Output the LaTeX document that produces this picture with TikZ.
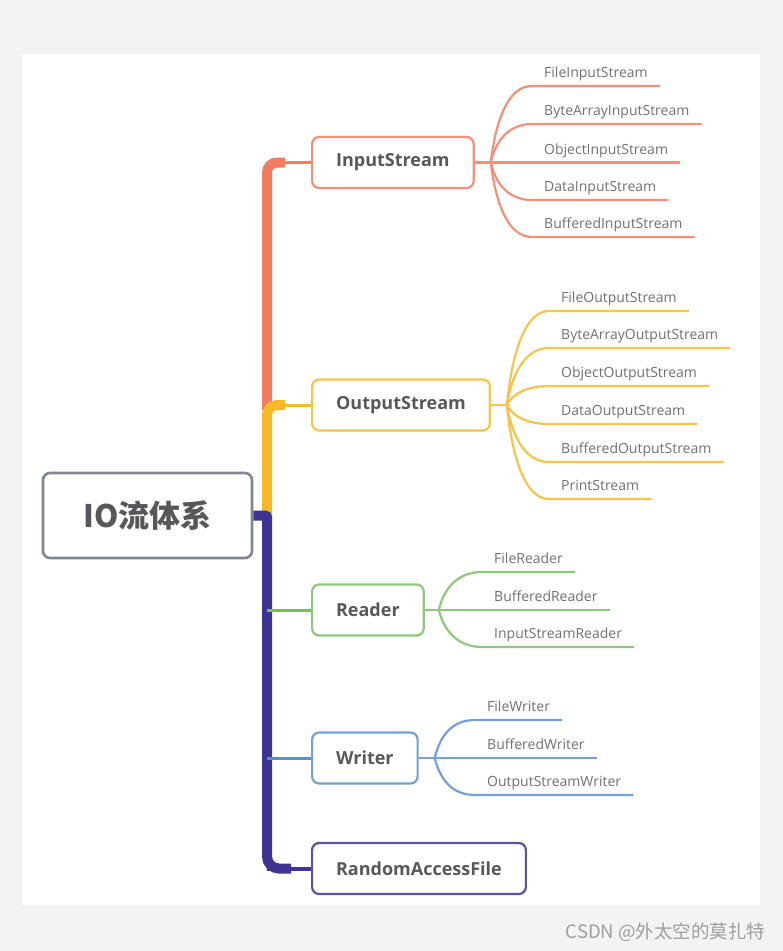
\documentclass[tikz,border=0pt]{standalone}
\usepackage{fontspec}
\setmainfont{Open Sans}
\newfontfamily\cjk{Noto Sans CJK SC}
\usepackage{tikz}
\usetikzlibrary{positioning, calc}
\definecolor{fondo}{RGB}{243,243,243}
\definecolor{naranja}{RGB}{242,124,96}
\definecolor{amarillo}{RGB}{247,185,40}
\definecolor{verde}{RGB}{122,190,98}
\definecolor{azul}{RGB}{92,142,208}
\definecolor{morado}{RGB}{62,52,146}
\definecolor{gris}{RGB}{128,134,146}
\definecolor{texto}{RGB}{88,88,92}

\begin{document}
\begin{tikzpicture}[
  x=1pt, y=-1pt,
  raiz/.style={
    draw=gris, line width=2.6pt, fill=white,
    rounded corners=7pt, text=texto,
    font=\cjk\bfseries\fontsize{31}{36}\selectfont,
    minimum width=209pt, minimum height=85pt
  },
  rama/.style={
    draw=#1!85, line width=2.2pt, fill=white,
    rounded corners=7pt, text=texto,
    font=\bfseries\fontsize{18}{22}\selectfont,
    minimum height=51pt, inner xsep=24pt
  },
  hoja/.style={
    font=\fontsize{14}{16}\selectfont, text=texto!85,
    inner xsep=12pt, inner ysep=8pt, text depth=0pt,
    anchor=south west
  },
  tronco/.style={draw=#1, line width=10pt, rounded corners=10pt},
  enlace/.style={draw=#1, line width=3pt},
  hilo/.style={draw=#1!85, line width=2.2pt}
]

% ── FONDO ────────────────────────────────────────────────────
\fill[fondo] (0,0) rectangle (783,951);
\fill[black!5] (20,52) rectangle (762,908);
\fill[white] (22,54) rectangle (760,905);

% ── NODOS ────────────────────────────────────────────────────

\node[raiz] (io) at (147.5,515.5) {IO流体系};

\node[rama=naranja, anchor=west] (is)  at (311,162.5) {InputStream};
\node[rama=amarillo, anchor=west] (os) at (311,405)   {OutputStream};
\node[rama=verde, anchor=west] (rd)    at (311,610)   {Reader};
\node[rama=azul, anchor=west] (wr)     at (311,758)   {Writer};
\node[rama=morado, anchor=west] (raf)  at (311,868.5) {RandomAccessFile};

% puntos del tronco
\coordinate (t-is)  at (267,162.5);
\coordinate (t-os)  at (267,405);
\coordinate (t-io)  at (267,515.5);
\coordinate (t-rd)  at (267,610);
\coordinate (t-wr)  at (267,758);
\coordinate (t-raf) at (267,868.5);

% puntos de abanico
\coordinate[right=16pt of is] (is-f);
\coordinate[right=16pt of os] (os-f);
\coordinate[right=14pt of rd] (rd-f);
\coordinate[right=16pt of wr] (wr-f);

% hojas InputStream
\node[hoja] (is1) at (532,86)    {FileInputStream};
\node[hoja] (is2) at (532,124)   {ByteArrayInputStream};
\node[hoja] (is3) at (532,162.5) {ObjectInputStream};
\node[hoja] (is4) at (532,200)   {DataInputStream};
\node[hoja] (is5) at (532,237)   {BufferedInputStream};

% hojas OutputStream
\node[hoja] (os1) at (549,311) {FileOutputStream};
\node[hoja] (os2) at (549,348) {ByteArrayOutputStream};
\node[hoja] (os3) at (549,386) {ObjectOutputStream};
\node[hoja] (os4) at (549,424) {DataOutputStream};
\node[hoja] (os5) at (549,462) {BufferedOutputStream};
\node[hoja] (os6) at (549,499) {PrintStream};

% hojas Reader
\node[hoja] (rd1) at (482,572) {FileReader};
\node[hoja] (rd2) at (482,610) {BufferedReader};
\node[hoja] (rd3) at (482,647) {InputStreamReader};

% hojas Writer
\node[hoja] (wr1) at (475,720) {FileWriter};
\node[hoja] (wr2) at (475,758) {BufferedWriter};
\node[hoja] (wr3) at (475,795) {OutputStreamWriter};

% marca
\node[anchor=east, font=\cjk\fontsize{18.5}{22}\selectfont, text=black!38] (marca) at (769,932) {CSDN @外太空的莫扎特};

% ── TRONCO ───────────────────────────────────────────────────

\draw[tronco=naranja] (267,410) -- (t-is) -- ++(18,0);
\draw[enlace=naranja] (t-is) -- (is.west);
\draw[tronco=amarillo] (267,522) -- (t-os) -- ++(18,0);
\draw[enlace=amarillo] (t-os) -- (os.west);
\draw[tronco=morado] [rounded corners=2pt] (io.east) -- (t-io)
  [rounded corners=12pt] -- (t-raf) -- ++(24,0);
\draw[enlace=morado, line width=4pt] (t-raf) -- (raf.west);
\draw[enlace=verde] (t-rd) -- (rd.west);
\draw[enlace=azul] (t-wr) -- (wr.west);

% ── RAMAS ────────────────────────────────────────────────────

% InputStream
\draw[hilo=naranja] (is.east) -- (is-f);
\draw[hilo=naranja] (is-f) .. controls +(5,-42) and +(-24,0) .. (is1.south west) -- (is1.south east);
\draw[hilo=naranja] (is-f) .. controls +(5,-21) and +(-24,0) .. (is2.south west) -- (is2.south east);
\draw[hilo=naranja] (is-f) -- (is3.south west) -- (is3.south east);
\draw[hilo=naranja] (is-f) .. controls +(5,21) and +(-24,0) .. (is4.south west) -- (is4.south east);
\draw[hilo=naranja] (is-f) .. controls +(5,41) and +(-24,0) .. (is5.south west) -- (is5.south east);

% OutputStream
\draw[hilo=amarillo] (os.east) -- (os-f);
\draw[hilo=amarillo] (os-f) .. controls +(5,-52) and +(-24,0) .. (os1.south west) -- (os1.south east);
\draw[hilo=amarillo] (os-f) .. controls +(5,-31) and +(-24,0) .. (os2.south west) -- (os2.south east);
\draw[hilo=amarillo] (os-f) .. controls +(5,-10) and +(-24,0) .. (os3.south west) -- (os3.south east);
\draw[hilo=amarillo] (os-f) .. controls +(5,10) and +(-24,0) .. (os4.south west) -- (os4.south east);
\draw[hilo=amarillo] (os-f) .. controls +(5,31) and +(-24,0) .. (os5.south west) -- (os5.south east);
\draw[hilo=amarillo] (os-f) .. controls +(5,52) and +(-24,0) .. (os6.south west) -- (os6.south east);

% Reader
\draw[hilo=verde] (rd.east) -- (rd-f);
\draw[hilo=verde] (rd-f) .. controls +(5,-21) and +(-25,0) .. (rd1.south west) -- (rd1.south east);
\draw[hilo=verde] (rd-f) -- (rd2.south west) -- (rd2.south east);
\draw[hilo=verde] (rd-f) .. controls +(5,20) and +(-25,0) .. (rd3.south west) -- (rd3.south east);

% Writer
\draw[hilo=azul] (wr.east) -- (wr-f);
\draw[hilo=azul] (wr-f) .. controls +(5,-21) and +(-24,0) .. (wr1.south west) -- (wr1.south east);
\draw[hilo=azul] (wr-f) -- (wr2.south west) -- (wr2.south east);
\draw[hilo=azul] (wr-f) .. controls +(5,20) and +(-24,0) .. (wr3.south west) -- (wr3.south east);

\end{tikzpicture}
\end{document}
